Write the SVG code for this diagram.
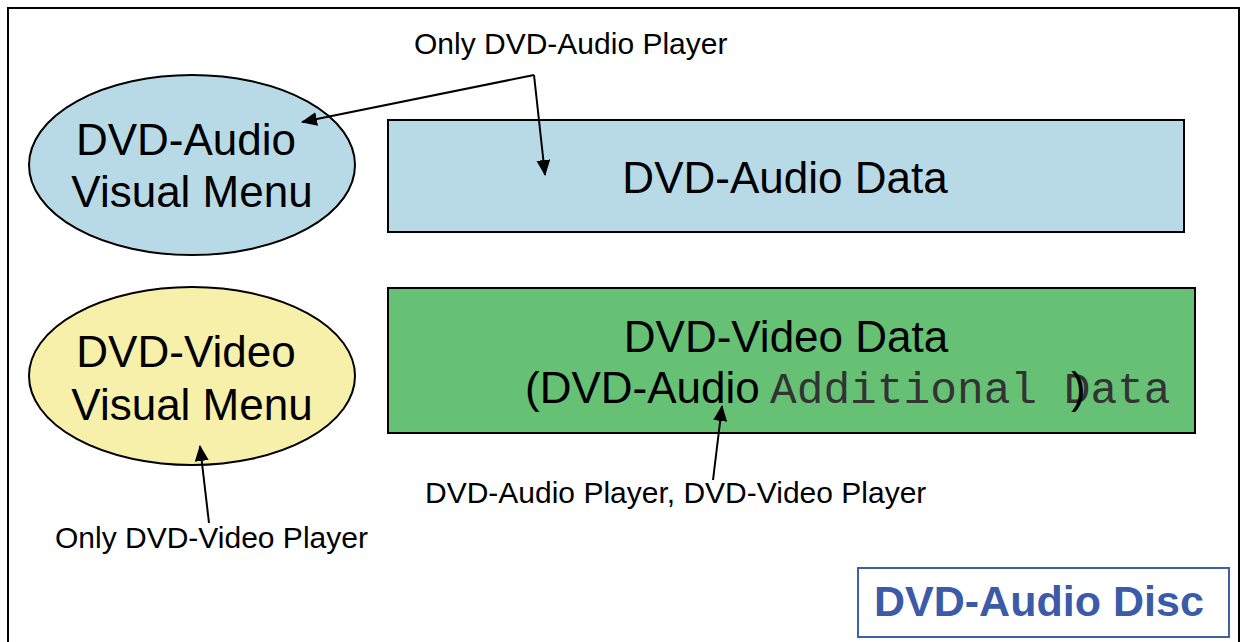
<svg xmlns="http://www.w3.org/2000/svg" width="1241" height="642" viewBox="0 0 1241 642">
<style>
.big{font-family:"Liberation Sans",Arial,sans-serif;font-size:44px;fill:#000}
.lbl{font-family:"Liberation Sans",Arial,sans-serif;font-size:30px;fill:#000}
.mono{font-family:"Liberation Mono","Courier New",monospace;font-size:44.5px;fill:#333}
.disc{font-family:"Liberation Sans",Arial,sans-serif;font-weight:bold;font-size:43px;fill:#3b5ba8}
.shape{stroke:#000;stroke-width:2}
.conn{fill:none;stroke:#000;stroke-width:2}
</style>
<defs>
<marker id="ah" markerWidth="16" markerHeight="14" refX="15" refY="7" orient="auto" markerUnits="userSpaceOnUse">
<path d="M0,0 L16,7 L0,14 Z" fill="#000"/>
</marker>
</defs>
<rect x="0" y="0" width="1241" height="642" fill="#fff"/>
<rect id="frame" x="8" y="8" width="1231" height="660" fill="#fff" stroke="#000" stroke-width="2"/>
<g id="audio-menu">
<ellipse cx="192" cy="165" rx="163" ry="90" fill="#b8dae6" class="shape"/>
<text class="big" x="186" y="155" text-anchor="middle">DVD-Audio</text>
<text class="big" x="192" y="207" text-anchor="middle">Visual Menu</text>
</g>
<g id="video-menu">
<ellipse cx="192" cy="376" rx="163" ry="89" fill="#f7f0aa" class="shape"/>
<text class="big" x="186" y="367" text-anchor="middle">DVD-Video</text>
<text class="big" x="192" y="420" text-anchor="middle">Visual Menu</text>
</g>
<g id="audio-data">
<rect x="388" y="120" width="796" height="112" fill="#b8dae6" class="shape"/>
<text class="big" x="785" y="193" text-anchor="middle">DVD-Audio Data</text>
</g>
<g id="video-data">
<rect x="388" y="288" width="807" height="145" fill="#66c175" class="shape"/>
<text class="big" x="786" y="352" text-anchor="middle">DVD-Video Data</text>
<text class="big" x="525" y="403">(DVD-Audio</text>
<text class="mono" x="770" y="403">Additional Data</text>
<text class="big" x="1071" y="403">)</text>
</g>
<g id="labels">
<text class="lbl" x="414" y="54">Only DVD-Audio Player</text>
<text class="lbl" x="425" y="503">DVD-Audio Player, DVD-Video Player</text>
<text class="lbl" x="55" y="548">Only DVD-Video Player</text>
</g>
<g id="connectors">
<path class="conn" d="M534,75 L302,122" marker-end="url(#ah)"/>
<path class="conn" d="M534,75 L545,175" marker-end="url(#ah)"/>
<path class="conn" d="M713,480 L722,406" marker-end="url(#ah)"/>
<path class="conn" d="M209,523 L200,446" marker-end="url(#ah)"/>
</g>
<g id="disc-label">
<rect x="858" y="568" width="371" height="69" fill="#fff" stroke="#3f5fa8" stroke-width="2"/>
<text class="disc" x="874" y="616">DVD-Audio</text>
<text class="disc" x="1113" y="616">Disc</text>
</g>
</svg>
